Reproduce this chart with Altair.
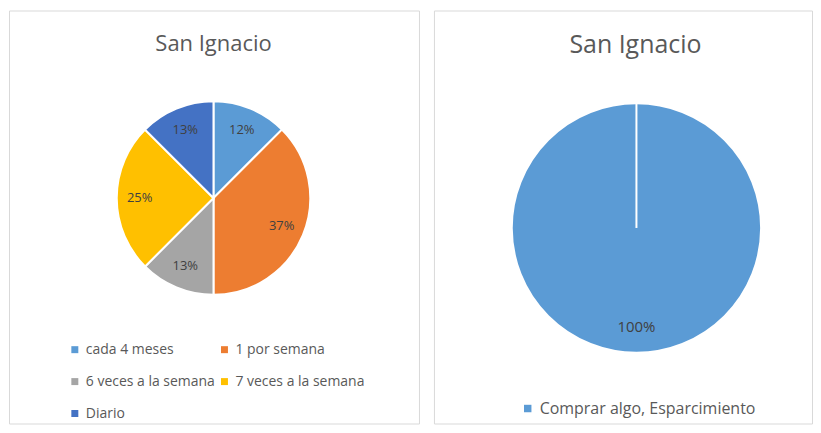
import altair as alt
import pandas as pd

# ---- data ----
left_cats = [" cada 4 meses", "1 por semana", "6 veces a la semana", "7 veces a la semana", "Diario"]
left_vals = [12.5, 37.5, 12.5, 25, 12.5]
left_labels = ["12%", "37%", "13%", "25%", "13%"]
left_colors = ["#5B9BD5", "#ED7D31", "#A5A5A5", "#FFC000", "#4472C4"]

right_cats = ["Comprar algo, Esparcimiento"]
right_vals = [100]
right_labels = ["100%"]
right_colors = ["#5B9BD5"]

titles = ["San Ignacio", "San Ignacio"]

FONT = "Open Sans"
TXT = "#595959"

left_df = pd.DataFrame({
    "cat": left_cats,
    "val": left_vals,
    "ord": list(range(len(left_cats))),
    "label": left_labels,
})
right_df = pd.DataFrame({
    "cat": right_cats,
    "val": right_vals,
    "ord": list(range(len(right_cats))),
    "label": right_labels,
})

# ---- left panel ----
LW, LH = 411, 414
lcx, lcy, lr = 205, 188, 97

lbase = alt.Chart(left_df).encode(
    theta=alt.Theta("val:Q", stack=True),
    order=alt.Order("ord:Q"),
    x=alt.value(lcx),
    y=alt.value(lcy),
)
larc = lbase.mark_arc(outerRadius=lr, stroke="white", strokeWidth=2).encode(
    color=alt.Color(
        "cat:N",
        sort=left_cats,
        scale=alt.Scale(domain=left_cats, range=left_colors),
        legend=alt.Legend(
            title=None, orient="none", legendX=59, legendY=333,
            columns=2, direction="horizontal",
            symbolType="square", symbolSize=49, symbolStrokeWidth=0,
            labelFont=FONT, labelFontSize=14, labelColor=TXT,
            labelOffset=4, rowPadding=18, columnPadding=2, labelLimit=0,
        ),
    )
)
llab = lbase.mark_text(radius=74, font=FONT, fontSize=13, color="#404040").encode(
    text="label:N", detail="cat:N"
)
ltitle = alt.Chart(pd.DataFrame({"t": [titles[0]]})).mark_text(
    font=FONT, fontSize=22, color=TXT
).encode(text="t:N", x=alt.value(205), y=alt.value(34))

left = alt.layer(larc, llab, ltitle).properties(width=LW, height=LH)

# ---- right panel ----
RW, RH = 379, 414
rcx, rcy, rr = 203, 218, 125

rbase = alt.Chart(right_df).encode(
    theta=alt.Theta("val:Q", stack=True),
    order=alt.Order("ord:Q"),
    x=alt.value(rcx),
    y=alt.value(rcy),
)
rarc = rbase.mark_arc(outerRadius=rr, stroke="white", strokeWidth=2).encode(
    color=alt.Color(
        "cat:N",
        sort=right_cats,
        scale=alt.Scale(domain=right_cats, range=right_colors),
        legend=alt.Legend(
            title=None, orient="none", legendX=86, legendY=391,
            symbolType="square", symbolSize=56, symbolStrokeWidth=0,
            labelFont=FONT, labelFontSize=16, labelColor=TXT, labelOffset=4,
            labelLimit=0,
        ),
    )
)
rsep = rbase.mark_rule(color="white", strokeWidth=2).encode(
    y=alt.value(rcy - rr), y2=alt.value(rcy)
)
rlab = rbase.mark_text(radius=99, font=FONT, fontSize=15, color="#404040").encode(
    text="label:N", detail="cat:N"
)
rtitle = alt.Chart(pd.DataFrame({"t": [titles[1]]})).mark_text(
    font=FONT, fontSize=25, color=TXT
).encode(text="t:N", x=alt.value(202), y=alt.value(35))

right = alt.layer(rarc, rsep, rlab, rtitle).properties(width=RW, height=RH)

chart = (
    alt.hconcat(left, right, spacing=13)
    .resolve_scale(color="independent")
    .configure_view(stroke="#d9d9d9", strokeWidth=1)
    .properties(padding={"left": 0, "top": 1, "right": 0, "bottom": 0})
)

chart.save("out.html", embed_options={"renderer": "svg", "actions": False})
